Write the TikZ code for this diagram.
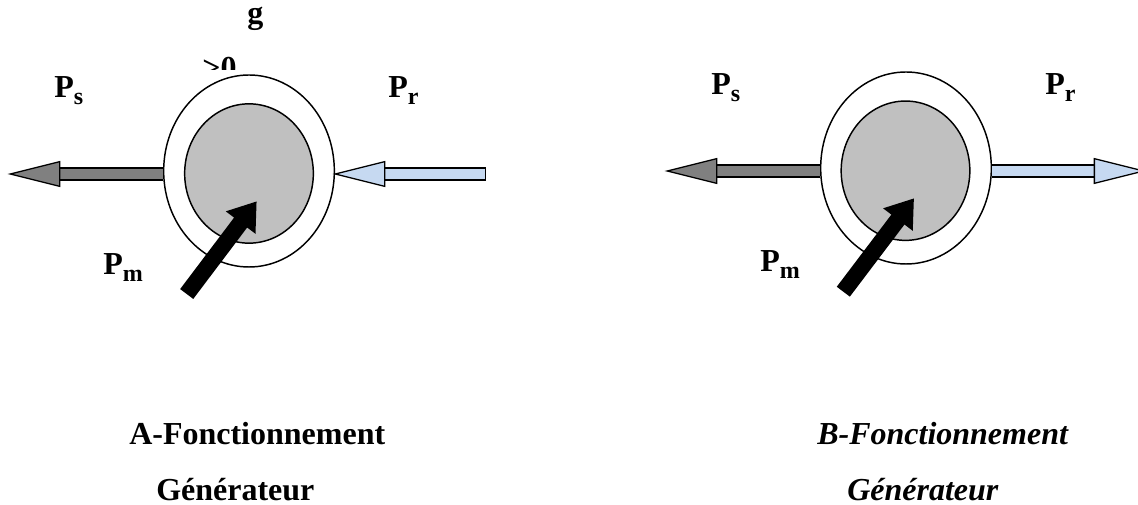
\documentclass[tikz,border=0pt]{standalone}
\usepackage{fontspec}
\setmainfont{Liberation Serif}
\usetikzlibrary{arrows.meta,shapes.geometric}
\definecolor{statorflow}{HTML}{808080}
\definecolor{rotorflow}{HTML}{C6D9F1}
\definecolor{rotorfill}{HTML}{C0C0C0}
\newcommand{\powerlabel}[1]{\textbf{P}{\fontsize{18}{18}\selectfont\raisebox{-5.2pt}{\textbf{#1}}}}
\tikzset{
  machine stator/.style={
    ellipse, draw=black, fill=white, line width=1.1pt, inner sep=0pt,
    minimum width=128pt, minimum height=144pt
  },
  machine rotor/.style={
    ellipse, draw=black, fill=rotorfill, line width=1.1pt, inner sep=0pt,
    minimum width=96.5pt, minimum height=104.5pt
  },
  power flow/.style={
    draw=black, line width=0.95pt, double=#1, double distance=8pt, shorten >=-1.8pt,
    -{Triangle[length=39.5pt,width=19.5pt,fill=#1]}
  },
  power closed/.style={
    power flow=#1,
    {Bar[width=9.8pt]}-{Triangle[length=39.5pt,width=19.5pt,fill=#1]}
  },
  power input/.style={
    draw=black, line width=12.3pt,
    -{Triangle[length=20pt,width=26.5pt,fill=black]}
  },
  power label/.style={
    font=\fontsize{24}{28}\selectfont, anchor=base west, inner sep=0pt
  },
  case title/.style={
    font=\fontsize{24}{28}\selectfont\bfseries, anchor=base west, inner sep=0pt
  },
  case title slanted/.style={
    case title, font=\fontsize{24}{28}\selectfont\bfseries\itshape
  }
}
\begin{document}
\begin{tikzpicture}[x=0.75pt,y=-0.75pt]
  \useasboundingbox (0,0) rectangle (1138,505);

  % Case A
  \node[machine stator] (statorA) at (249,171) {};
  \node[machine rotor] (rotorA) at (249,173.5) {};
  \coordinate (psendA) at (10,174);
  \coordinate (prstartA) at (486,174);
  \coordinate (pmstartA) at (186.7,294);
  \coordinate (pmendA) at (256.7,201.3);
  \draw[power flow=statorflow] (psendA -| statorA.west) -- (psendA);
  \draw[power closed=rotorflow] (prstartA) -- (prstartA -| statorA.east);
  \draw[power input] (pmstartA) -- (pmendA);

  \node[power label] (glabelA) at (247,23.5) {\textbf{g}};
  \begin{scope}
    % Only the top of this text shows in the picture.
    \clip (190,50) rectangle (250,70);
    \node[power label] (signA) at (202,79) {\textbf{>0}};
  \end{scope}
  \node[power label] (pslabelA) at (54,98) {\powerlabel{s}};
  \node[power label] (prlabelA) at (388,98) {\powerlabel{r}};
  \node[power label] (pmlabelA) at (103,275) {\powerlabel{m}};

  % Case B
  \node[machine stator] (statorB) at (906,168) {};
  \node[machine rotor] (rotorB) at (905.5,170.7) {};
  \coordinate (psendB) at (667,171);
  \coordinate (prendB) at (1144,171); % the tip runs off the page
  \coordinate (pmstartB) at (843.3,291.7);
  \coordinate (pmendB) at (914,198.3);
  \draw[power flow=statorflow] (psendB -| statorB.west) -- (psendB);
  \draw[power flow=rotorflow] (prendB -| statorB.east) -- (prendB);
  \draw[power input] (pmstartB) -- (pmendB);

  \node[power label] (pslabelB) at (711,95) {\powerlabel{s}};
  \node[power label] (prlabelB) at (1045,95) {\powerlabel{r}};
  \node[power label] (pmlabelB) at (760,272) {\powerlabel{m}};

  % Titles under each machine
  \node[case title] (titleA) at (129,445) {A-Fonctionnement};
  \node[case title] (subtitleA) at (156,500) {Générateur};
  \node[case title slanted] (titleB) at (817,445) {B-Fonctionnement};
  \node[case title slanted] (subtitleB) at (847,500) {Générateur};
\end{tikzpicture}
\end{document}
